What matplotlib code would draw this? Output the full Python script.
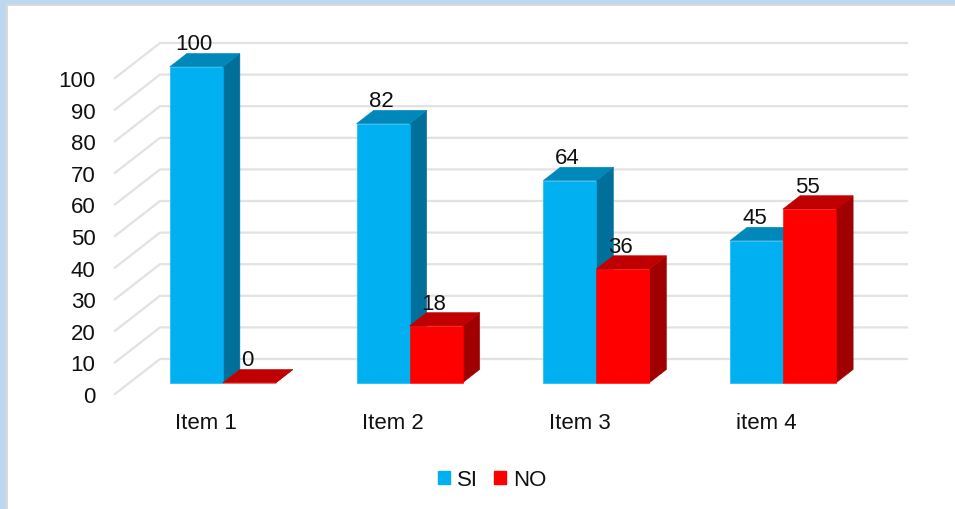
import matplotlib
matplotlib.use("Agg")
import matplotlib.pyplot as plt
from matplotlib.patches import Rectangle, Patch

plt.rcParams['font.family'] = ['Liberation Sans', 'DejaVu Sans']

categories = ["Item 1", "Item 2", "Item 3", "item 4"]
si_values = [100, 82, 64, 45]
no_values = [0, 18, 36, 55]
y_ticks = list(range(0, 101, 10))

W, H = 955, 510
FS = 16
BLUE = ("#00B0F0", "#0088BA", "#00709A")
RED = ("#FF0000", "#C00000", "#A00000")
GRID = "#E2E2E2"

fig = plt.figure(figsize=(W / 100, H / 100), dpi=100, facecolor="#BDD7EE")
fig.add_artist(Rectangle((6 / W, 0), 1, 1 - 5 / H, transform=fig.transFigure,
                         facecolor="#D9D9D9", edgecolor="none", zorder=-3))
fig.add_artist(Rectangle((8 / W, 0), 1, 1 - 7 / H, transform=fig.transFigure,
                         facecolor="white", edgecolor="none", zorder=-2))

LEFT, RIGHT, TOP, BOTTOM = 115, 862, 79, 395
ax = fig.add_axes([LEFT / W, 1 - BOTTOM / H, (RIGHT - LEFT) / W, (BOTTOM - TOP) / H])
ax.patch.set_alpha(0)
ax.set_xlim(-0.5, 3.5)
ax.set_ylim(0, 100)
for s in ax.spines.values():
    s.set_visible(False)

ax.set_yticks(y_ticks)
ax.set_xticks(range(len(categories)))
ax.set_xticklabels(categories)
ax.tick_params(axis='y', length=0, pad=14, labelsize=FS, labelcolor="#111111")
ax.tick_params(axis='x', length=0, pad=13, labelsize=FS, labelcolor="#111111")
for lab in ax.get_xticklabels():
    lab.set_x(lab.get_position()[0])
    lab.set_horizontalalignment('center')
    lab.set_transform(lab.get_transform() + matplotlib.transforms.ScaledTranslation(-2 / 100, 0, fig.dpi_scale_trans))

px_x = (RIGHT - LEFT) / 4       # pixels per category
px_y = (BOTTOM - TOP) / 100     # pixels per value unit
DEPTH_X, DEPTH_Y = 45, 35       # pixel shift from the front to the back of the floor


def proj(x, v, d):
    return x + d * DEPTH_X / px_x, v + d * DEPTH_Y / px_y


# grid: diagonal on the side wall, horizontal on the back wall
for v in y_ticks:
    a = proj(-0.5, v, 0)
    b = proj(-0.5, v, 1)
    c = proj(3.5, v, 1)
    ax.plot([a[0], b[0], c[0]], [a[1], b[1], c[1]], color=GRID, lw=1.6,
            clip_on=False, zorder=1, solid_joinstyle='miter')

BAR_W = 53 / px_x
D0, D1 = 0.32, 0.70


def bar3d(x0, v, cols):
    x1 = x0 + BAR_W
    corners_top = [proj(x0, v, D0), proj(x1, v, D0), proj(x1, v, D1), proj(x0, v, D1)]
    corners_side = [proj(x1, 0, D0), proj(x1, v, D0), proj(x1, v, D1), proj(x1, 0, D1)]
    corners_front = [proj(x0, 0, D0), proj(x1, 0, D0), proj(x1, v, D0), proj(x0, v, D0)]
    for pts, col in ((corners_side, cols[2]), (corners_top, cols[1]), (corners_front, cols[0])):
        ax.fill(*zip(*pts), color=col, lw=0.4, clip_on=False, zorder=2)


for i in range(len(categories)):
    bar3d(i - BAR_W, si_values[i], BLUE)
    bar3d(i, no_values[i], RED)

for i in range(len(categories)):
    for x0, v in ((i - BAR_W, si_values[i]), (i, no_values[i])):
        ax.annotate(str(v), xy=proj(x0 + BAR_W / 2, v, D0), xytext=(-1.5, 16.5),
                    textcoords='offset points', ha='center', va='center',
                    fontsize=FS, color="#111111", annotation_clip=False, zorder=5)

handles = [Patch(color=BLUE[0]), Patch(color=RED[0])]
fig.legend(handles, ["SI", "NO"], loc='center', bbox_to_anchor=(492 / W, 1 - 481 / H),
           ncol=2, frameon=False, fontsize=FS, handlelength=0.55, handleheight=0.55,
           handletextpad=0.3, columnspacing=0.75, borderpad=0, labelcolor="#111111")

fig.savefig("out.png", dpi=100, facecolor=fig.get_facecolor())
